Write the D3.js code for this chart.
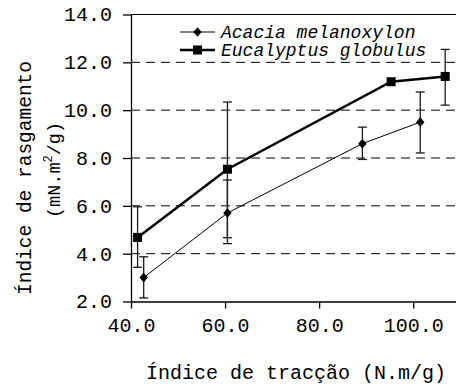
<!DOCTYPE html>
<html>
<head>
<meta charset="utf-8">
<script src="https://cdn.jsdelivr.net/npm/d3@7"></script>
<style>
  body { margin: 0; background: #fff; }
  svg text { font-family: "Liberation Mono", "Courier New", monospace; fill: #000; }
</style>
</head>
<body>
<div id="chart"></div>
<script>
"use strict";

/*** Data */
const seriesNames = ["Acacia melanoxylon", "Eucalyptus globulus"];

/* Acacia melanoxylon */
const acaciaX = [42.7, 60.5, 89.2, 101.5];
const acaciaY = [3.0, 5.7, 8.6, 9.5];
const acaciaLow = [2.15, 4.42, 7.94, 8.21];
const acaciaHigh = [3.87, 7.08, 9.29, 10.76];

/* Eucalyptus globulus (no error bar on the third point) */
const eucX = [41.4, 60.5, 95.3, 106.8];
const eucY = [4.68, 7.53, 11.19, 11.41];
const eucLow = [3.43, 4.67, null, 10.21];
const eucHigh = [5.96, 10.34, null, 12.54];

/* Axis ticks */
const xTicks = [40, 60, 80, 100];
const yTicks = [2, 4, 6, 8, 10, 12, 14];
const gridTicks = [4, 6, 8, 10, 12];

/*** Dimensions */
const w = 456;
const h = 386;
const plotLeft = 131, plotRight = 456, plotTop = 14.5, plotBottom = 301.5;

const svg = d3.select("#chart")
    .append("svg")
    .attr("width", w)
    .attr("height", h);

const x = d3.scaleLinear().domain([40, 109.1]).range([plotLeft, plotRight]);
const y = d3.scaleLinear().domain([2, 14]).range([plotBottom, plotTop]);

/** Dashed gridlines */
svg.append("g")
    .selectAll("line")
    .data(gridTicks)
    .enter()
    .append("line")
    .attr("x1", plotLeft)
    .attr("x2", plotRight)
    .attr("y1", d => y(d))
    .attr("y2", d => y(d))
    .attr("stroke", "#000")
    .attr("stroke-width", 1)
    .attr("stroke-dasharray", "9,6");

/* solid top line */
svg.append("line")
    .attr("x1", plotLeft).attr("x2", plotRight)
    .attr("y1", y(14)).attr("y2", y(14))
    .attr("stroke", "#000")
    .attr("stroke-width", 1.2);

/** Axes */
const xAxis = d3.axisBottom(x)
    .tickValues(xTicks)
    .tickFormat(d3.format(".1f"))
    .tickSize(7)
    .tickSizeOuter(0)
    .tickPadding(9);

const yAxis = d3.axisLeft(y)
    .tickValues(yTicks)
    .tickFormat(d3.format(".1f"))
    .tickSize(8)
    .tickSizeOuter(0)
    .tickPadding(11);

const gx = svg.append("g")
    .attr("transform", "translate(0," + plotBottom + ")")
    .call(xAxis);

const gy = svg.append("g")
    .attr("transform", "translate(" + plotLeft + ",0)")
    .call(yAxis);

[gx, gy].forEach(g => {
    g.selectAll("text")
        .style("font-family", "'Liberation Mono', monospace")
        .style("font-size", "20px")
        .attr("fill", "#000");
    g.selectAll("path, line").attr("stroke", "#000").attr("stroke-width", 1.3);
});

/** Series */
const acacia = acaciaX.map((d, i) => ({x: d, y: acaciaY[i], lo: acaciaLow[i], hi: acaciaHigh[i]}));
const euc = eucX.map((d, i) => ({x: d, y: eucY[i], lo: eucLow[i], hi: eucHigh[i]}));

const line = d3.line().x(d => x(d.x)).y(d => y(d.y));

const drawErrors = (data) => {
    const g = svg.append("g")
        .attr("stroke", "#1a1a1a")
        .attr("stroke-width", 1.3);
    const withErr = data.filter(d => d.lo !== null);
    g.selectAll(".v").data(withErr).enter().append("line")
        .attr("x1", d => x(d.x)).attr("x2", d => x(d.x))
        .attr("y1", d => y(d.lo)).attr("y2", d => y(d.hi));
    g.selectAll(".t").data(withErr).enter().append("line")
        .attr("x1", d => x(d.x) - 4.5).attr("x2", d => x(d.x) + 4.5)
        .attr("y1", d => y(d.hi)).attr("y2", d => y(d.hi));
    g.selectAll(".b").data(withErr).enter().append("line")
        .attr("x1", d => x(d.x) - 4.5).attr("x2", d => x(d.x) + 4.5)
        .attr("y1", d => y(d.lo)).attr("y2", d => y(d.lo));
};

drawErrors(acacia);
drawErrors(euc);

svg.append("path")
    .datum(acacia)
    .attr("d", line)
    .attr("fill", "none")
    .attr("stroke", "#000")
    .attr("stroke-width", 1);

svg.append("path")
    .datum(euc)
    .attr("d", line)
    .attr("fill", "none")
    .attr("stroke", "#000")
    .attr("stroke-width", 2.5);

const diamond = "M0,-4.8L4.2,0L0,4.8L-4.2,0Z";

svg.append("g")
    .selectAll("path")
    .data(acacia)
    .enter()
    .append("path")
    .attr("d", diamond)
    .attr("transform", d => "translate(" + x(d.x) + "," + y(d.y) + ")")
    .attr("fill", "#000");

svg.append("g")
    .selectAll("rect")
    .data(euc)
    .enter()
    .append("rect")
    .attr("x", d => x(d.x) - 4.5)
    .attr("y", d => y(d.y) - 4.5)
    .attr("width", 9)
    .attr("height", 9)
    .attr("fill", "#000");

/** Legend */
const legend = svg.append("g");
const legendY = [32, 50];

legend.append("line")
    .attr("x1", 180).attr("x2", 215)
    .attr("y1", legendY[0]).attr("y2", legendY[0])
    .attr("stroke", "#000").attr("stroke-width", 1);
legend.append("path")
    .attr("d", diamond)
    .attr("transform", "translate(197.5," + legendY[0] + ")")
    .attr("fill", "#000");

legend.append("line")
    .attr("x1", 180).attr("x2", 215)
    .attr("y1", legendY[1]).attr("y2", legendY[1])
    .attr("stroke", "#000").attr("stroke-width", 2.5);
legend.append("rect")
    .attr("x", 193).attr("y", legendY[1] - 4.5)
    .attr("width", 9).attr("height", 9)
    .attr("fill", "#000");

legend.selectAll("text")
    .data(seriesNames)
    .enter()
    .append("text")
    .attr("x", 221)
    .attr("y", (d, i) => legendY[i])
    .attr("dy", "0.32em")
    .style("font-size", "18px")
    .style("font-style", "italic")
    .text(d => d);

/** Axis titles */
svg.append("text")
    .attr("x", 296)
    .attr("y", 379)
    .attr("text-anchor", "middle")
    .style("font-size", "20px")
    .text("Índice de tracção (N.m/g)");

svg.append("text")
    .attr("transform", "translate(31,178) rotate(-90)")
    .attr("text-anchor", "middle")
    .style("font-size", "19.5px")
    .text("Índice de rasgamento");

const yUnit = svg.append("text")
    .attr("transform", "translate(60,170) rotate(-90)")
    .attr("text-anchor", "middle")
    .style("font-size", "18.5px");
yUnit.append("tspan").text("(mN.m");
yUnit.append("tspan").attr("dy", -8).style("font-size", "12px").text("2");
yUnit.append("tspan").attr("dy", 8).text("/g)");
</script>
</body>
</html>
